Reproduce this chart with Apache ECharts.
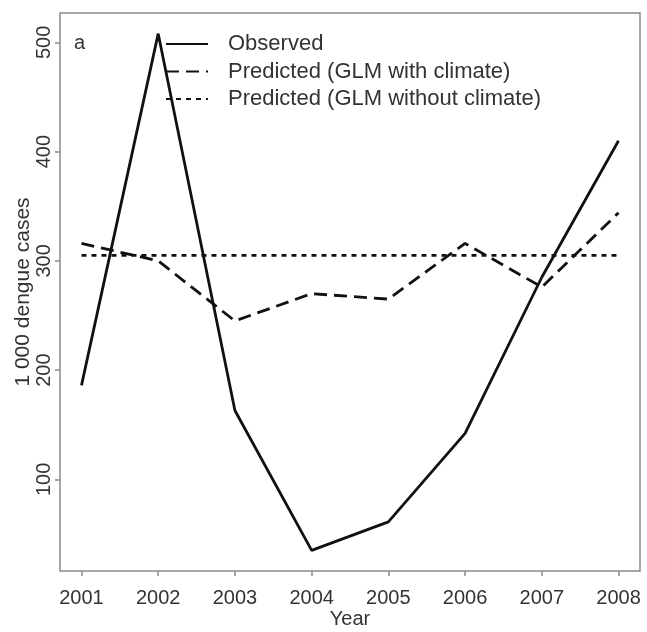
<!DOCTYPE html>
<html>
<head>
<meta charset="utf-8">
<script src="https://cdn.jsdelivr.net/npm/echarts@6/dist/echarts.min.js"></script>
<style>
  html, body { margin: 0; padding: 0; background: #fff; }
  #chart { width: 647px; height: 632px; }
</style>
</head>
<body>
<div id="chart"></div>
<script>
// Yearly dengue cases (thousands): observed vs two GLM predictions
const years = [2001, 2002, 2003, 2004, 2005, 2006, 2007, 2008];
const observed = [186, 508, 163, 35, 61, 142, 285, 410];
const predictedWithClimate = [316, 300, 245, 270, 265, 316, 276, 344];
const predictedWithoutClimate = [305, 305, 305, 305, 305, 305, 305, 305];
const yTicks = [100, 200, 300, 400, 500];
const seriesNames = ['Observed', 'Predicted (GLM with climate)', 'Predicted (GLM without climate)'];

// R-style axis range: data range widened by 4% on each side
function padRange(lo, hi) {
  const r = hi - lo;
  return [lo - 0.04 * r, hi + 0.04 * r];
}
const allValues = observed.concat(predictedWithClimate, predictedWithoutClimate);
const [yMin, yMax] = padRange(Math.min(...allValues), Math.max(...allValues));
const [xMin, xMax] = padRange(years[0], years[years.length - 1]);

const font = 'Liberation Sans, Arial, sans-serif';
const textColor = '#333';
const boxColor = '#8a8a8a';

const pairs = arr => years.map((y, i) => [y, arr[i]]);

const chart = echarts.init(document.getElementById('chart'));
chart.setOption({
  animation: false,
  backgroundColor: '#fff',
  grid: {
    left: 60, top: 13, width: 580, height: 558,
    outerBoundsMode: 'none', containLabel: false,
    show: true, borderColor: boxColor, borderWidth: 1.5, backgroundColor: 'transparent'
  },
  legend: {
    orient: 'vertical',
    left: 160, top: 28,
    itemWidth: 42, itemHeight: 20, itemGap: 5.5,
    itemStyle: { opacity: 0 },
    textStyle: { fontFamily: font, fontSize: 22, color: textColor, padding: [0, 0, 0, 15] },
    data: seriesNames
  },
  graphic: [{
    type: 'text', left: 74, top: 33,
    style: { text: 'a', font: '20px ' + font, fill: textColor }
  }],
  xAxis: {
    type: 'value', min: xMin, max: xMax,
    name: 'Year', nameLocation: 'middle', nameGap: 38, nameMoveOverlap: false,
    nameTextStyle: { fontFamily: font, fontSize: 20, color: textColor },
    axisLine: { show: false },
    splitLine: { show: false },
    axisTick: { show: true, customValues: years, length: 5, lineStyle: { color: boxColor, width: 1.5 } },
    axisLabel: {
      customValues: years, margin: 17,
      fontFamily: font, fontSize: 20, color: textColor,
      formatter: v => String(v)
    }
  },
  yAxis: {
    type: 'value', min: yMin, max: yMax,
    name: '1 000 dengue cases', nameLocation: 'middle', nameGap: 26, nameMoveOverlap: false,
    nameTextStyle: { fontFamily: font, fontSize: 21, color: textColor },
    axisLine: { show: false },
    splitLine: { show: false },
    axisTick: { show: true, customValues: yTicks, length: 5, lineStyle: { color: boxColor, width: 1.5 } },
    axisLabel: {
      customValues: yTicks, rotate: 90, margin: 6,
      fontFamily: font, fontSize: 20, color: textColor
    }
  },
  series: [
    {
      name: seriesNames[0], type: 'line', data: pairs(observed),
      symbol: 'none', lineStyle: { color: '#111', width: 2.8, type: 'solid' },
      itemStyle: { color: '#111' }
    },
    {
      name: seriesNames[1], type: 'line', data: pairs(predictedWithClimate),
      symbol: 'none', lineStyle: { color: '#111', width: 2.8, type: [13, 7] },
      itemStyle: { color: '#111' }
    },
    {
      name: seriesNames[2], type: 'line', data: pairs(predictedWithoutClimate),
      symbol: 'none', lineStyle: { color: '#111', width: 2.8, type: [5, 5] },
      itemStyle: { color: '#111' }
    }
  ]
});
</script>
</body>
</html>
